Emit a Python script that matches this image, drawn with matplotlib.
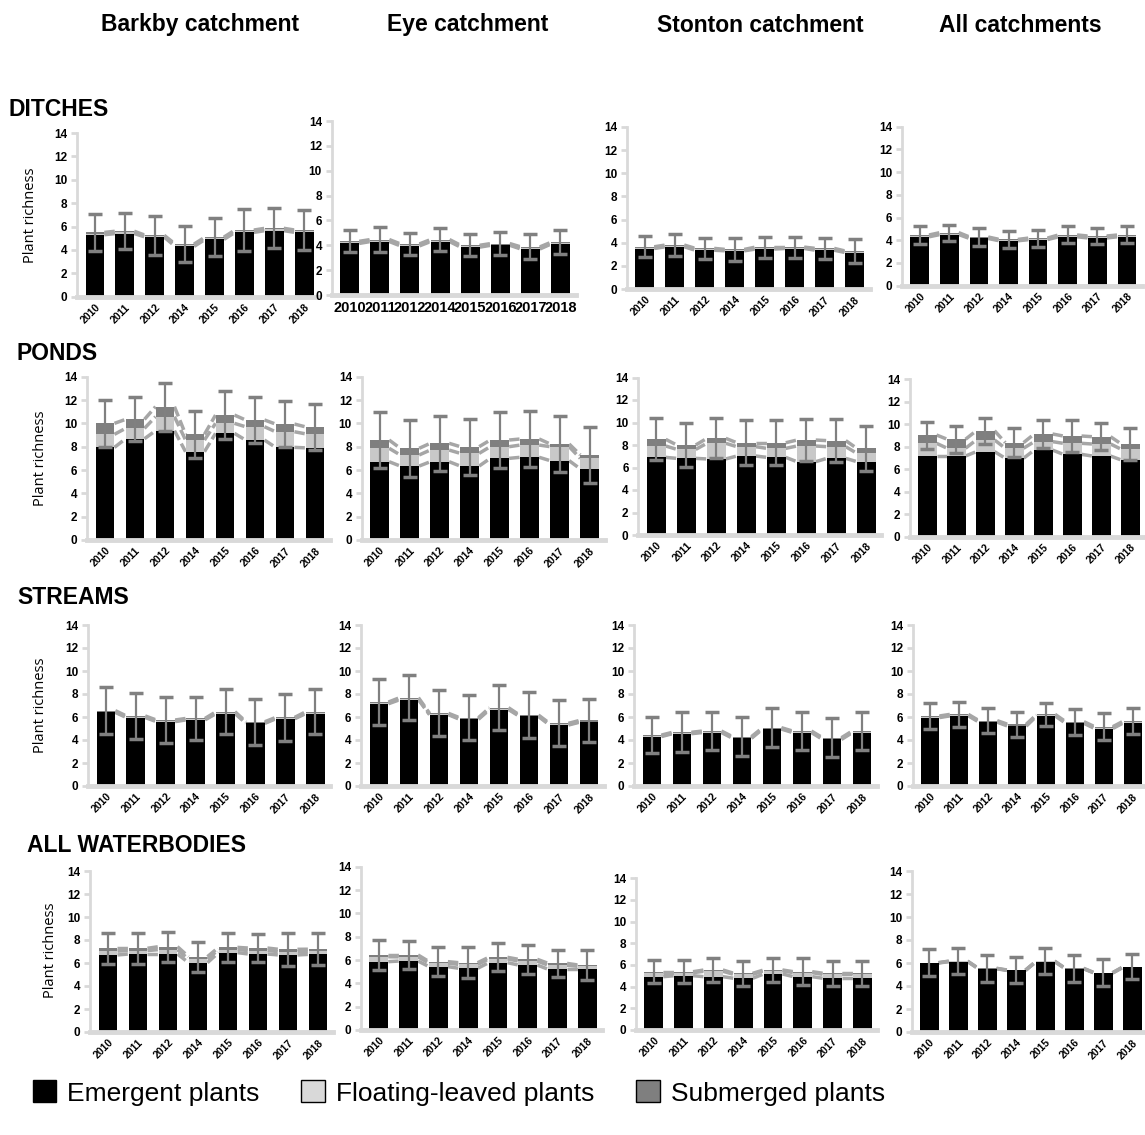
import matplotlib
matplotlib.use("Agg")
import matplotlib.pyplot as plt
import numpy as np
from matplotlib.patches import Patch

# data
years = ["2010", "2011", "2012", "2014", "2015", "2016", "2017", "2018"]
catchments = ["Barkby catchment", "Eye catchment", "Stonton catchment", "All catchments"]
waterbodies = ["DITCHES", "PONDS", "STREAMS", "ALL WATERBODIES"]

# each list: [Barkby, Eye, Stonton, All]
ditches_emergent = [
    [5.3, 5.4, 5.1, 4.3, 4.9, 5.5, 5.65, 5.5],
    [4.15, 4.3, 3.95, 4.3, 3.85, 4.0, 3.7, 4.1],
    [3.5, 3.65, 3.35, 3.3, 3.45, 3.5, 3.35, 3.15],
    [4.3, 4.5, 4.15, 3.95, 4.05, 4.3, 4.2, 4.3],
]
ditches_floating = [
    [0.1, 0.1, 0.05, 0.1, 0.1, 0.1, 0.1, 0.1],
    [0.08, 0.08, 0.08, 0.08, 0.07, 0.06, 0.07, 0.06],
    [0.07, 0.07, 0.08, 0.06, 0.08, 0.06, 0.08, 0.06],
    [0.08, 0.08, 0.06, 0.06, 0.06, 0.08, 0.08, 0.08],
]
ditches_submerged = [
    [0.1, 0.1, 0.1, 0.1, 0.1, 0.1, 0.1, 0.1],
    [0.09, 0.08, 0.08, 0.08, 0.08, 0.08, 0.1, 0.08],
    [0.08, 0.08, 0.08, 0.06, 0.09, 0.06, 0.08, 0.07],
    [0.08, 0.09, 0.07, 0.06, 0.08, 0.08, 0.09, 0.08],
]
ditches_sd = [
    [1.6, 1.55, 1.65, 1.56, 1.62, 1.8, 1.7, 1.7],
    [0.9, 1.0, 0.86, 0.9, 0.87, 0.92, 1.0, 0.96],
    [0.92, 0.95, 0.92, 1.0, 0.9, 0.9, 0.92, 1.0],
    [0.76, 0.7, 0.8, 0.72, 0.75, 0.75, 0.72, 0.75],
]

ponds_emergent = [
    [7.94, 8.68, 9.37, 7.57, 9.14, 8.57, 7.94, 7.9],
    [6.71, 6.34, 6.71, 6.34, 7.0, 7.09, 6.8, 6.1],
    [6.9, 6.81, 6.76, 7.02, 6.9, 6.52, 6.81, 6.52],
    [7.17, 7.17, 7.56, 6.97, 7.7, 7.32, 7.17, 6.82],
]
ponds_floating = [
    [1.12, 0.89, 1.2, 1.0, 0.86, 1.14, 1.34, 1.2],
    [1.15, 0.95, 1.0, 1.09, 1.0, 1.05, 1.2, 0.9],
    [1.01, 0.8, 1.39, 0.83, 0.8, 1.39, 1.04, 0.74],
    [1.13, 0.69, 1.04, 0.89, 0.75, 0.98, 1.07, 0.95],
]
ponds_submerged = [
    [0.94, 0.77, 0.86, 0.49, 0.71, 0.58, 0.66, 0.6],
    [0.71, 0.57, 0.58, 0.57, 0.57, 0.52, 0.23, 0.3],
    [0.59, 0.39, 0.44, 0.35, 0.5, 0.53, 0.54, 0.44],
    [0.74, 0.8, 0.82, 0.5, 0.68, 0.65, 0.65, 0.47],
]
ponds_sd = [
    [2.0, 1.89, 2.07, 2.0, 2.06, 1.99, 1.97, 2.0],
    [2.43, 2.43, 2.34, 2.4, 2.43, 2.4, 2.4, 2.4],
    [1.87, 1.93, 1.78, 2.0, 2.0, 1.86, 1.91, 1.99],
    [1.2, 1.18, 1.16, 1.27, 1.24, 1.42, 1.19, 1.39],
]

streams_emergent = [
    [6.4, 5.95, 5.6, 5.75, 6.3, 5.45, 5.85, 6.3],
    [7.15, 7.5, 6.2, 5.8, 6.65, 6.05, 5.3, 5.55],
    [4.3, 4.55, 4.65, 4.15, 4.95, 4.65, 4.05, 4.65],
    [5.95, 6.1, 5.55, 5.2, 6.1, 5.45, 5.0, 5.5],
]
streams_floating = [
    [0.05, 0.06, 0.05, 0.05, 0.06, 0.05, 0.04, 0.06],
    [0.06, 0.08, 0.05, 0.06, 0.06, 0.05, 0.06, 0.05],
    [0.05, 0.05, 0.06, 0.05, 0.05, 0.06, 0.06, 0.06],
    [0.06, 0.05, 0.05, 0.06, 0.05, 0.06, 0.06, 0.06],
]
streams_submerged = [
    [0.1, 0.08, 0.09, 0.08, 0.1, 0.09, 0.08, 0.1],
    [0.09, 0.1, 0.07, 0.08, 0.1, 0.07, 0.09, 0.1],
    [0.08, 0.07, 0.07, 0.09, 0.07, 0.07, 0.09, 0.09],
    [0.08, 0.08, 0.08, 0.1, 0.08, 0.08, 0.1, 0.09],
]
streams_sd = [
    [2.03, 2.0, 1.97, 1.9, 1.97, 2.0, 2.05, 1.97],
    [2.0, 1.98, 2.0, 1.95, 1.98, 2.03, 2.0, 1.9],
    [1.6, 1.74, 1.63, 1.68, 1.69, 1.63, 1.68, 1.63],
    [1.1, 1.1, 1.08, 1.08, 1.0, 1.13, 1.2, 1.14],
]

allwb_emergent = [
    [6.7, 6.78, 6.78, 6.03, 6.9, 6.78, 6.7, 6.75],
    [5.86, 5.91, 5.43, 5.29, 5.77, 5.57, 5.2, 5.2],
    [4.92, 5.01, 4.92, 4.77, 5.17, 4.92, 4.77, 4.77],
    [6.0, 6.12, 5.5, 5.35, 6.12, 5.5, 5.12, 5.63],
]
allwb_floating = [
    [0.33, 0.3, 0.38, 0.3, 0.27, 0.3, 0.29, 0.26],
    [0.42, 0.36, 0.3, 0.33, 0.32, 0.34, 0.35, 0.26],
    [0.37, 0.28, 0.5, 0.36, 0.29, 0.37, 0.36, 0.37],
    [0.02, 0.03, 0.02, 0.02, 0.03, 0.02, 0.02, 0.03],
]
allwb_submerged = [
    [0.25, 0.2, 0.26, 0.22, 0.19, 0.22, 0.2, 0.19],
    [0.15, 0.16, 0.13, 0.15, 0.14, 0.15, 0.16, 0.11],
    [0.09, 0.09, 0.12, 0.1, 0.08, 0.09, 0.1, 0.09],
    [0.01, 0.02, 0.02, 0.02, 0.02, 0.02, 0.02, 0.02],
]
allwb_sd = [
    [1.35, 1.35, 1.3, 1.3, 1.27, 1.22, 1.41, 1.4],
    [1.28, 1.2, 1.23, 1.32, 1.2, 1.22, 1.15, 1.29],
    [1.08, 1.08, 1.08, 1.17, 1.08, 1.24, 1.17, 1.17],
    [1.16, 1.13, 1.16, 1.16, 1.13, 1.16, 1.19, 1.08],
]

rows = [
    (ditches_emergent, ditches_floating, ditches_submerged, ditches_sd),
    (ponds_emergent, ponds_floating, ponds_submerged, ponds_sd),
    (streams_emergent, streams_floating, streams_submerged, streams_sd),
    (allwb_emergent, allwb_floating, allwb_submerged, allwb_sd),
]

# panel layout in pixels: (spine x, category width, y of 0, y of 14)
W, H = 1145, 1135
layout = [
    [(77, 29.9, 296.7, 133), (331.7, 30.1, 295, 121), (626.8, 30, 289, 127), (902, 29.6, 285.6, 126.7)],
    [(87, 30, 540, 376.7), (361.7, 30, 540, 376.7), (638.3, 30, 535, 377.5), (910, 29.0, 536.7, 379.2)],
    [(88, 29.9, 786, 625), (361, 30, 786, 625), (634, 30, 786, 625), (913, 28.9, 786, 625)],
    [(90, 30, 1032, 871), (361, 29.8, 1030, 866.7), (636, 29.8, 1030, 878.3), (912, 29.0, 1032, 871)],
]

C_EM = "black"
C_FL = "#c8c8c8"
C_SUB = "#7f7f7f"
C_LINE = "#a6a6a6"
C_AXIS = "#d9d9d9"
BAR_W = 0.63

plt.rcParams["font.family"] = ["Liberation Sans", "DejaVu Sans"]
fig = plt.figure(figsize=(W / 100, H / 100), dpi=100)

x = np.arange(len(years))
for r, (em_all, fl_all, sub_all, sd_all) in enumerate(rows):
    for c in range(4):
        spine, cat, y0, y14 = layout[r][c]
        ax = fig.add_axes([spine / W, 1 - y0 / H, 8.1 * cat / W, (y0 - y14) / H])
        em = np.array(em_all[c])
        fl = np.array(fl_all[c])
        sub = np.array(sub_all[c])
        sd = np.array(sd_all[c])
        top1 = em + fl
        total = top1 + sub

        # series lines between bars
        for lev in (em, top1, total):
            for i in range(len(years) - 1):
                ax.plot([i + BAR_W / 2, i + 1 - BAR_W / 2], [lev[i], lev[i + 1]],
                        color=C_LINE, lw=2.5, ls=(0, (3, 1.2)), zorder=1)

        ax.bar(x, em, BAR_W, color=C_EM, zorder=2)
        ax.bar(x, fl, BAR_W, bottom=em, color=C_FL, zorder=2)
        ax.bar(x, sub, BAR_W, bottom=top1, color=C_SUB, zorder=2)
        ax.errorbar(x, total, yerr=sd, fmt="none", ecolor="#808080",
                    elinewidth=1.6, capsize=5, capthick=2.5, zorder=3)

        ax.set_xlim(-0.6, 7.5)
        ax.set_ylim(0, 14)
        ax.set_yticks(range(0, 15, 2))
        ax.set_xticks(x)
        if r == 0 and c == 1:
            ax.set_xticklabels(years, fontsize=10.5, fontweight="bold")
        else:
            ax.set_xticklabels(years, rotation=45, ha="right", rotation_mode="anchor",
                               fontsize=7.5, fontweight="bold")
        for lab in ax.get_yticklabels():
            lab.set_fontsize(8.5)
            lab.set_fontweight("bold")
        ax.tick_params(axis="y", color=C_AXIS, length=4, width=2, pad=3)
        ax.tick_params(axis="x", length=0, pad=4)
        for s in ("top", "right"):
            ax.spines[s].set_visible(False)
        ax.spines["left"].set_color(C_AXIS)
        ax.spines["left"].set_linewidth(2)
        ax.spines["bottom"].set_color(C_AXIS)
        ax.spines["bottom"].set_linewidth(3.5)
        ax.patch.set_alpha(0)

# column headers
for name, xc in zip(catchments, [200, 468, 760, 1020]):
    fig.text(xc / W, 1 - 25 / H, name, ha="center", va="center",
             fontsize=16.5, fontweight="bold")

# row labels
for name, (xl, yl) in zip(waterbodies, [(8, 110), (17, 353), (17, 598), (27, 846)]):
    fig.text(xl / W, 1 - yl / H, name, ha="left", va="center",
             fontsize=16.5, fontweight="bold")

# y-axis titles
for xl, yl in [(30, 215), (40, 458), (40, 705), (50, 950)]:
    fig.text(xl / W, 1 - yl / H, "Plant richness", rotation=90, ha="center",
             va="center", fontsize=10.5, family=["Open Sans", "DejaVu Sans"])

handles = [
    Patch(facecolor=C_EM, edgecolor="black", label="Emergent plants"),
    Patch(facecolor="#d9d9d9", edgecolor="black", label="Floating-leaved plants"),
    Patch(facecolor=C_SUB, edgecolor="black", label="Submerged plants"),
]
fig.legend(handles=handles, loc="center left", bbox_to_anchor=(22 / W, 1 - 1093 / H),
           ncol=3, frameon=False, fontsize=19, handlelength=0.9, handleheight=0.9,
           handletextpad=0.4, columnspacing=1.6, borderaxespad=0)

fig.savefig("out.png", dpi=100)
